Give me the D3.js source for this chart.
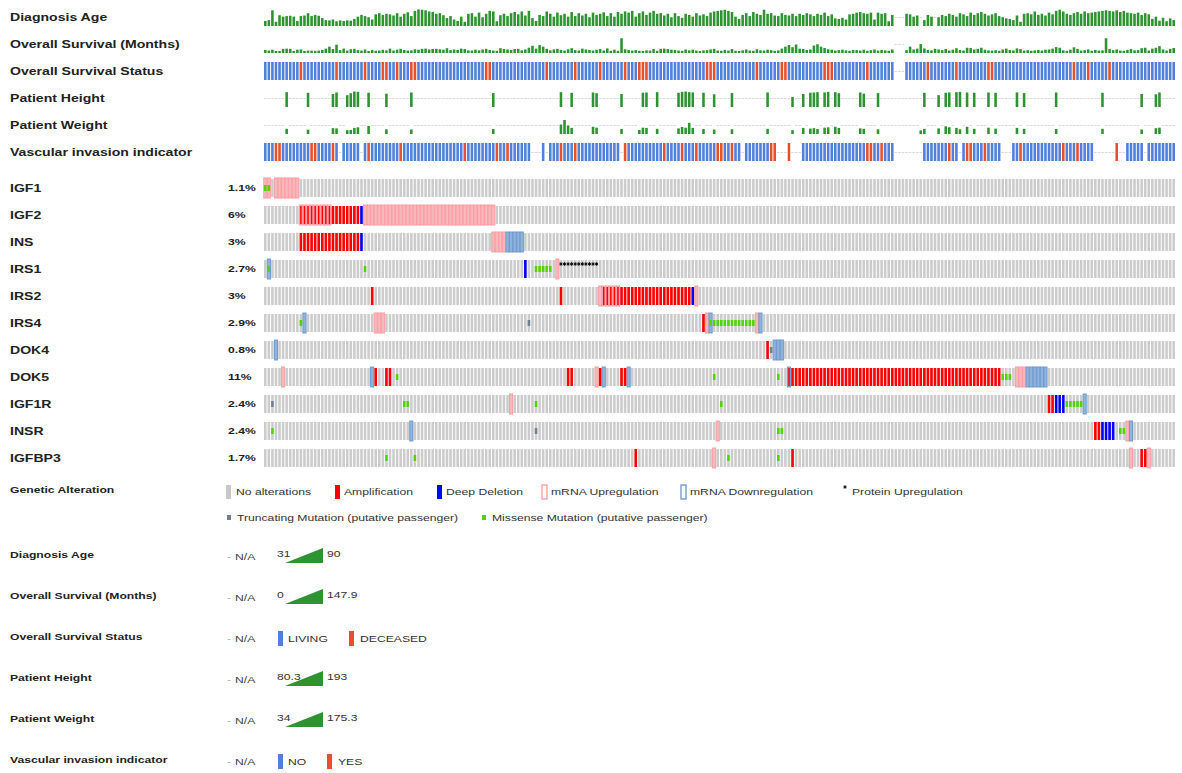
<!DOCTYPE html>
<html>
<head>
<meta charset="utf-8">
<script src="https://cdn.jsdelivr.net/npm/d3@7"></script>
<style>
  body { margin: 0; background: #fff; }
  text { font-family: "Liberation Sans", Arial, Helvetica, sans-serif; }
</style>
</head>
<body>
<script>
var N = 256;

var clinicalNames = ["Diagnosis Age", "Overall Survival (Months)", "Overall Survival Status",
                     "Patient Height", "Patient Weight", "Vascular invasion indicator"];
var genes = ["IGF1", "IGF2", "INS", "IRS1", "IRS2", "IRS4", "DOK4", "DOK5", "IGF1R", "INSR", "IGFBP3"];
var genePct = ["1.1%", "6%", "3%", "2.7%", "3%", "2.9%", "0.8%", "11%", "2.4%", "2.4%", "1.7%"];

var ageRange = [31, 90];
var osRange = [0, 147.9];
var heightRange = [80.3, 193];
var weightRange = [34, 175.3];

// one value per sample, null = N/A
var diagnosisAge = [
  45,48,82,42,65,60,62,63,60,45, 62,64,72,62,66,63,55,48,47,50,
  44,47,45,47,46,52,60,66,62,58, 50,68,72,66,70,68,64,72,60,70,
  75,62,80,85,84,82,78,76,70,72, 65,55,62,50,45,60,42,70,72,60,
  74,58,70,80,78,44,65,70,62,72, 76,68,78,64,80,55,45,66,62,78,
  70,60,74,65,70,60,76,62,72,64, 70,58,74,66,70,75,62,72,60,76,
  70,78,74,80,60,72,78,66,74,80, 70,72,64,70,58,72,62,56,70,66,
  60,72,64,68,62,74,78,80,82,84, 80,76,60,52,66,72,62,76,70,66,
  84,70,72,64,62,72,66,64,70,62, 70,66,72,68,62,70,66,74,62,68,
  54,52,56,50,68,70,74,76,72,70, 74,50,74,70,72,44,66,null,null,null,
  70,68,60,64,null,48,66,60,null,58, 66,62,70,66,60,72,68,62,74,66,
  72,76,70,64,68,72,62,58,54,52, 48,64,42,70,72,68,78,66,70,64,
  74,68,80,84,78,70,66,72,76,70, 78,72,74,76,78,80,82,80,78,82,
  76,80,74,72,70,74,66,72,68,52, 60,46,56,44,54,48
];

var overallSurvival = [
  10,4,12,0,0,20,22,20,0,12, 14,0,4,3,2,4,10,22,40,18,
  58,8,22,4,16,20,8,4,14,0, 10,2,4,12,6,22,4,12,20,10,
  4,6,16,12,20,22,14,18,20,16, 12,26,8,14,10,22,18,6,4,12,
  6,14,20,10,4,2,26,18,14,10, 18,20,6,14,30,48,22,55,40,20,
  6,14,20,10,4,16,26,8,4,22, 14,10,4,12,18,4,24,2,12,2,
  118,16,10,4,8,2,0,6,4,18, 2,20,22,18,12,10,4,2,14,6,
  12,4,0,6,8,14,20,4,2,10, 4,18,2,0,6,14,4,2,16,6,
  4,12,8,2,6,22,40,55,35,60, 22,18,10,14,50,62,40,28,16,12,
  4,8,12,6,2,10,8,4,12,2, 8,14,4,10,6,2,14,null,null,null,
  8,40,14,22,64,24,10,6,20,14, 8,18,4,12,26,10,4,30,28,14,
  20,30,12,6,4,8,2,14,22,10, 6,24,18,4,8,2,6,10,4,12,
  14,22,36,30,6,2,12,34,20,4, 8,14,2,10,4,6,118,18,8,14,
  4,2,10,18,6,8,26,30,4,22, 30,45,14,4,20,28
];

// sample index lists for the categorical tracks
var osDeceased = [10,20,28,33,34,37,41,42,62,63,79,87,94,101,105,106,107,124,125,126,
                  138,145,146,157,158,159,169,186,194,203,204,227,231,237];
var osMissing = [177,178,179];
var vascYes = [3,4,13,14,19,29,38,56,65,68,83,87,101,112,117,121,127,128,131,142,143,147,
               169,170,173,192,197,198,202,212,224,228,239];
var vascMissing = [21,27,75,76,77,79,100,134,144,145,146,148,149,150,177,178,179,180,181,182,
                   183,184,195,207,208,209,233,234,235,236,237,238,240,241,247];

// [sample index, value]; all other samples N/A
var heightCm = [[6,172],[12,168],[19,160],[20,170],[23,152],[24,165],[25,176],[26,174],[29,168],
  [34,162],[41,170],[64,166],[83,172],[86,168],[92,170],[93,165],[100,160],[106,168],[107,170],
  [110,172],[116,168],[117,174],[118,176],[119,172],[120,170],[123,168],[126,158],[131,166],
  [141,170],[148,140],[151,160],[153,168],[154,170],[155,172],[157,170],[158,174],[160,172],
  [161,165],[167,170],[168,162],[172,166],[185,168],[189,152],[191,168],[192,170],[194,172],
  [195,174],[197,170],[199,168],[203,170],[205,168],[211,170],[213,166],[222,170],[235,168],
  [246,160],[250,158],[251,170]];
var weightKg = [[6,62],[12,55],[19,68],[20,66],[23,50],[24,52],[25,70],[26,75],[29,88],[34,58],
  [41,56],[64,60],[83,100],[84,140],[85,92],[86,70],[92,80],[93,72],[100,60],[105,52],[106,72],
  [107,70],[110,62],[116,66],[117,78],[118,72],[119,115],[120,70],[123,60],[126,56],[131,58],
  [141,62],[148,50],[151,70],[153,64],[154,68],[155,60],[157,72],[158,75],[160,80],[161,70],
  [167,66],[168,62],[172,58],[184,48],[185,62],[189,66],[191,84],[192,76],[194,70],[195,58],
  [197,80],[199,62],[203,72],[205,64],[211,70],[213,62],[222,60],[235,62],[246,56],[250,68],
  [251,72]];

// alteration runs: [type, first sample, last sample]
var altIGF1 = [["up",0,1],["mis",0,1],["up",3,9]];
var altIGF2 = [["up",10,18],["amp",10,26],["del",27,27],["up",28,64]];
var altINS = [["amp",10,26],["del",27,27],["up",64,67],["down",68,72]];
var altIRS1 = [["down",1,1],["mis",1,1],["mis",28,28],["del",73,73],["mis",76,80],["up",82,82],["prot",83,93]];
var altIRS2 = [["amp",30,30],["amp",83,83],["up",94,99],["amp",95,119],["del",120,120],["up",121,121]];
var altIRS4 = [["mis",10,10],["down",11,11],["up",31,33],["trunc",74,74],["amp",123,123],["up",124,124],
               ["down",125,125],["mis",125,137],["up",138,138],["down",139,139]];
var altDOK4 = [["down",3,3],["amp",141,141],["trunc",142,142],["down",143,145]];
var altDOK5 = [["up",5,5],["down",30,30],["amp",31,31],["amp",34,35],["mis",37,37],["amp",85,86],
               ["up",93,93],["amp",94,94],["down",95,95],["amp",100,101],["down",102,102],["mis",126,126],
               ["mis",144,144],["down",147,147],["amp",147,206],["mis",207,209],["up",211,213],["down",214,219]];
var altIGF1R = [["trunc",2,2],["mis",39,40],["up",69,69],["mis",76,76],["mis",128,128],["amp",220,221],
                ["del",222,224],["mis",225,229],["down",230,230]];
var altINSR = [["mis",2,2],["down",41,41],["trunc",76,76],["up",127,127],["mis",144,145],["amp",233,234],
               ["del",235,238],["mis",240,241],["up",242,242],["down",243,243]];
var altIGFBP3 = [["mis",34,34],["mis",42,42],["amp",104,104],["up",126,126],["mis",130,130],["mis",144,144],
                 ["amp",148,148],["up",243,243],["amp",246,247],["up",248,248]];
var geneAlts = [altIGF1, altIGF2, altINS, altIRS1, altIRS2, altIRS4, altDOK4, altDOK5, altIGF1R, altINSR, altIGFBP3];

var colors = {
  green: "#2e9431", living: "#4f80db", deceased: "#e6502a", na: "#dadada",
  grey: "#cccccc", amp: "#ff0000", del: "#0000ff",
  upFill: "#f7b8bc", upStroke: "#ff9aa2", downFill: "#91b2da", downStroke: "#6a98cf",
  mis: "#53d400", trunc: "#708090"
};

var svg = d3.select('body').append('svg').attr('width', 1182).attr('height', 773);

var x = d3.scaleBand().domain(d3.range(N)).range([264, 1175]).paddingInner(0.28);
var bw = x.bandwidth();
var trackH = 18;
var yClin = d3.scaleLinear().domain([0, 5]).range([8, 143]);
var yGene = d3.scaleLinear().domain([0, 10]).range([179, 449]);

function addText(g, tx, ty, txt, size, weight, fill) {
  return g.append('text')
    .attr('transform', 'translate(' + tx + ',' + ty + ') scale(1.28,1)')
    .attr('font-size', size)
    .attr('font-weight', weight || 'normal')
    .attr('fill', fill || '#222')
    .attr('dy', '0.35em')
    .text(txt);
}

function fromPairs(pairs) {
  var a = new Array(N).fill(null);
  pairs.forEach(function (p) { a[p[0]] = p[1]; });
  return a;
}

function categories(redIdx, naIdx) {
  return d3.range(N).map(function (i) {
    if (naIdx.indexOf(i) >= 0) return null;
    return redIdx.indexOf(i) >= 0 ? 1 : 0;
  });
}

function drawNA(g, top, values) {
  g.selectAll('rect.na')
    .data(values.map(function (v, i) { return {v: v, i: i}; }).filter(function (d) { return d.v == null; }))
    .enter().append('rect')
    .attr('class', 'na')
    .attr('x', function (d) { return x(d.i); })
    .attr('width', bw)
    .attr('y', top + trackH / 2)
    .attr('height', 1)
    .attr('fill', colors.na);
}

function numericTrack(row, values, range, minH) {
  var top = yClin(row), bottom = top + trackH;
  var h = d3.scaleLinear().domain(range).range([minH, trackH]);
  var g = svg.append('g');
  g.selectAll('rect.v')
    .data(values.map(function (v, i) { return {v: v, i: i}; }).filter(function (d) { return d.v != null; }))
    .enter().append('rect')
    .attr('class', 'v')
    .attr('x', function (d) { return x(d.i); })
    .attr('width', bw)
    .attr('y', function (d) { return bottom - h(d.v); })
    .attr('height', function (d) { return h(d.v); })
    .attr('fill', colors.green);
  drawNA(g, top, values);
}

function categoricalTrack(row, values) {
  var top = yClin(row);
  var g = svg.append('g');
  g.selectAll('rect.v')
    .data(values.map(function (v, i) { return {v: v, i: i}; }).filter(function (d) { return d.v != null; }))
    .enter().append('rect')
    .attr('class', 'v')
    .attr('x', function (d) { return x(d.i); })
    .attr('width', bw)
    .attr('y', top)
    .attr('height', trackH)
    .attr('fill', function (d) { return d.v ? colors.deceased : colors.living; });
  drawNA(g, top, values);
}

// clinical tracks
clinicalNames.forEach(function (name, k) {
  addText(svg, 10, yClin(k) + 9, name, 11, 'bold', '#222');
});
numericTrack(0, diagnosisAge, ageRange, 1);
numericTrack(1, overallSurvival, osRange, 2);
categoricalTrack(2, categories(osDeceased, osMissing));
numericTrack(3, fromPairs(heightCm), heightRange, 1);
numericTrack(4, fromPairs(weightKg), weightRange, 2);
categoricalTrack(5, categories(vascYes, vascMissing));

// gene tracks
function expand(runs) {
  var cells = d3.range(N).map(function (i) { return {i: i}; });
  runs.forEach(function (r) {
    for (var i = r[1]; i <= r[2]; i++) cells[i][r[0]] = true;
  });
  return cells;
}

genes.forEach(function (gene, k) {
  var top = yGene(k);
  var cells = expand(geneAlts[k]);
  var g = svg.append('g');
  addText(svg, 10, top + 9, gene, 11, 'bold', '#222');
  addText(svg, 228, top + 9, genePct[k], 9.5, 'bold', '#222');

  g.selectAll('rect.bg').data(cells).enter().append('rect')
    .attr('x', function (d) { return x(d.i); }).attr('width', bw)
    .attr('y', top).attr('height', trackH).attr('fill', colors.grey);

  var mrna = cells.filter(function (d) { return d.up || d.down; });
  g.selectAll('rect.mrna').data(mrna).enter().append('rect')
    .attr('x', function (d) { return x(d.i) - 0.3; }).attr('width', bw + 0.6)
    .attr('y', top - 1).attr('height', trackH + 2)
    .attr('fill', function (d) { return d.up ? colors.upFill : colors.downFill; })
    .attr('stroke', function (d) { return d.up ? colors.upStroke : colors.downStroke; })
    .attr('stroke-width', 0.9);

  var cna = cells.filter(function (d) { return d.amp || d.del; });
  g.selectAll('rect.cna').data(cna).enter().append('rect')
    .attr('x', function (d) { return (d.up || d.down) ? x(d.i) + bw * 0.2 : x(d.i); })
    .attr('width', function (d) { return (d.up || d.down) ? bw * 0.6 : bw; })
    .attr('y', top).attr('height', trackH)
    .attr('fill', function (d) { return d.amp ? colors.amp : colors.del; });

  var muts = cells.filter(function (d) { return d.mis || d.trunc; });
  g.selectAll('rect.mut').data(muts).enter().append('rect')
    .attr('x', function (d) { return x(d.i); }).attr('width', bw)
    .attr('y', top + trackH / 3).attr('height', trackH / 3)
    .attr('fill', function (d) { return d.mis ? colors.mis : colors.trunc; });

  var prot = cells.filter(function (d) { return d.prot; });
  g.selectAll('path.prot').data(prot).enter().append('path')
    .attr('transform', function (d) { return 'translate(' + (x(d.i) + bw / 2) + ',' + (top + 4) + ')'; })
    .attr('d', d3.symbol(d3.symbolAsterisk, 9))
    .attr('fill', 'none').attr('stroke', '#000').attr('stroke-width', 0.9);
});

// genetic alteration legend
var leg = svg.append('g');
addText(leg, 10, 490, "Genetic Alteration", 9.5, 'bold', '#222');
var legendRow1 = [
  ["none", 226, 236, "No alterations"],
  ["amp", 335, 344, "Amplification"],
  ["del", 437, 446, "Deep Deletion"],
  ["up", 542, 551, "mRNA Upregulation"],
  ["down", 681, 690, "mRNA Downregulation"],
  ["prot", 843, 852, "Protein Upregulation"]
];
legendRow1.forEach(function (it) {
  var t = it[0], lx = it[1];
  if (t === "prot") {
    leg.append('path').attr('transform', 'translate(' + (lx + 2) + ',487)')
      .attr('d', d3.symbol(d3.symbolAsterisk, 9)).attr('fill', 'none')
      .attr('stroke', '#000').attr('stroke-width', 0.9);
  } else {
    var r = leg.append('rect').attr('x', lx).attr('y', 485).attr('width', 5).attr('height', 14);
    if (t === "none") r.attr('fill', '#c8c8c8');
    if (t === "amp") r.attr('fill', colors.amp);
    if (t === "del") r.attr('fill', colors.del);
    if (t === "up") r.attr('fill', '#fff').attr('stroke', colors.upStroke).attr('stroke-width', 1.3);
    if (t === "down") r.attr('fill', '#fff').attr('stroke', colors.downStroke).attr('stroke-width', 1.3);
  }
  addText(leg, it[2], 492, it[3], 9.5, 'normal', '#333');
});
var legendRow2 = [
  ["trunc", 227, 237, "Truncating Mutation (putative passenger)"],
  ["mis", 482, 492, "Missense Mutation (putative passenger)"]
];
legendRow2.forEach(function (it) {
  leg.append('rect').attr('x', it[1]).attr('y', 515).attr('width', 4).attr('height', 5)
    .attr('fill', it[0] === 'mis' ? colors.mis : colors.trunc);
  addText(leg, it[2], 518, it[3], 9.5, 'normal', '#333');
});

// clinical legends
var legendY = d3.scaleLinear().domain([0, 5]).range([555, 760]);
var numericLegends = [[0, ageRange, "31", "90"], [1, osRange, "0", "147.9"],
                      [3, heightRange, "80.3", "193"], [4, weightRange, "34", "175.3"]];
var catLegends = [[2, "LIVING", "DECEASED", 349, 360], [5, "NO", "YES", 327, 338]];

clinicalNames.forEach(function (name, k) {
  var cy = legendY(k);
  addText(leg, 10, cy, name, 9.5, 'bold', '#222');
  addText(leg, 227, cy + 2, "-", 9.5, 'normal', '#aaa');
  addText(leg, 235, cy + 2, "N/A", 9.5, 'normal', '#444');
});

numericLegends.forEach(function (it) {
  var cy = legendY(it[0]);
  var lx = d3.scaleLinear().domain(it[1]).range([285, 323]);
  var lh = d3.scaleLinear().domain(it[1]).range([0, 15]);
  addText(leg, 277, cy - 1, it[2], 9.5, 'normal', '#333');
  addText(leg, 327, cy - 1, it[3], 9.5, 'normal', '#333');
  var area = d3.area()
    .x(function (v) { return lx(v); })
    .y0(cy + 8)
    .y1(function (v) { return cy + 8 - lh(v); });
  leg.append('path').datum(it[1]).attr('d', area).attr('fill', colors.green);
});

catLegends.forEach(function (it) {
  var cy = legendY(it[0]);
  leg.append('rect').attr('x', 278).attr('y', cy - 6).attr('width', 5).attr('height', 15).attr('fill', colors.living);
  addText(leg, 288, cy + 2, it[1], 9.5, 'normal', '#333');
  leg.append('rect').attr('x', it[3]).attr('y', cy - 6).attr('width', 5).attr('height', 15).attr('fill', colors.deceased);
  addText(leg, it[4], cy + 2, it[2], 9.5, 'normal', '#333');
});
</script>
</body>
</html>
